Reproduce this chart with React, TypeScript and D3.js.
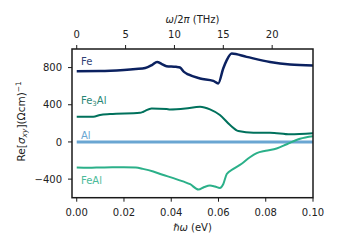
import React from "react";
import * as d3 from "d3";

const feX = [0, 0.01, 0.02, 0.025, 0.029, 0.032, 0.034, 0.036, 0.038, 0.042, 0.0437, 0.0454, 0.0472, 0.0522, 0.0578, 0.0599, 0.062, 0.0635, 0.0656, 0.0719, 0.0818, 0.0903, 0.1];
const feY = [760, 762, 775, 785, 795, 830, 861, 838, 815, 808, 801, 754, 726, 683, 657, 630, 790, 880, 951, 915, 861, 833, 822];

const fe3alX = [0, 0.007, 0.0099, 0.0141, 0.0268, 0.0282, 0.0317, 0.038, 0.0395, 0.046, 0.0522, 0.0564, 0.0606, 0.0649, 0.0684, 0.0748, 0.0818, 0.0903, 0.1];
const fe3alY = [271, 271, 290, 300, 314, 325, 361, 355, 350, 360, 379, 351, 290, 182, 118, 100, 100, 82, 93];

const alX = [0, 0.1];
const alY = [0, 0];

const fealX = [0, 0.005, 0.01, 0.015, 0.02, 0.025, 0.028, 0.0324, 0.036, 0.0409, 0.045, 0.048, 0.0515, 0.054, 0.0564, 0.0585, 0.0606, 0.062, 0.0635, 0.0663, 0.0698, 0.0733, 0.0762, 0.08, 0.0846, 0.0889, 0.0945, 0.1];
const fealY = [-276, -278, -275, -272, -272, -276, -290, -318, -350, -389, -425, -455, -512, -485, -470, -480, -495, -455, -345, -290, -235, -165, -120, -95, -70, -25, 35, 62];

const xTicks = [0, 0.02, 0.04, 0.06, 0.08, 0.1];
const yTicks = [-400, 0, 400, 800];
const thzTicks = [0, 5, 10, 15, 20];

const series = [
  { name: "Fe", xs: feX, ys: feY, color: "#0b2160", width: 2.5 },
  { name: "Fe3Al", xs: fe3alX, ys: fe3alY, color: "#00715c", width: 2 },
  { name: "Al", xs: alX, ys: alY, color: "#6aa6d2", width: 3 },
  { name: "FeAl", xs: fealX, ys: fealY, color: "#2bb089", width: 2 },
];

const EV_PER_THZ = 0.0041357;

export default function App() {
  const left = 72, right = 313, top = 49, bottom = 197.7;
  const x = d3.scaleLinear().domain([-0.002, 0.1]).range([left, right]);
  const y = d3.scaleLinear().domain([-600, 1000]).range([bottom, top]);
  const font = "DejaVu Sans, sans-serif";

  const line = d3
    .line<[number, number]>()
    .x((d) => x(d[0]))
    .y((d) => y(d[1]))
    .curve(d3.curveMonotoneX);

  return (
    <div style={{ position: "fixed", left: 0, top: 0 }}>
      <svg width={340} height={250} style={{ display: "block", background: "#fff" }} fontFamily={font}>
        <defs>
          <clipPath id="plotclip">
            <rect x={left} y={top} width={right - left} height={bottom - top} />
          </clipPath>
        </defs>
        <g clipPath="url(#plotclip)">
          {series.map((s) => (
            <path
              key={s.name}
              d={line(s.xs.map((v, i) => [v, s.ys[i]] as [number, number])) || ""}
              fill="none"
              stroke={s.color}
              strokeWidth={s.width}
              strokeLinejoin="round"
              strokeLinecap="butt"
            />
          ))}
        </g>
        {/* labels */}
        <text x={81} y={65} fontSize={10} fill="#0b2160" opacity={0.85}>Fe</text>
        <text x={81} y={104} fontSize={10} fill="#00715c" opacity={0.85}>
          Fe<tspan fontSize={7} dy={2}>3</tspan><tspan dy={-2}>Al</tspan>
        </text>
        <text x={81} y={138.5} fontSize={10} fill="#6aa6d2">Al</text>
        <text x={81} y={184} fontSize={10} fill="#2bb089" opacity={0.85}>FeAl</text>

        {/* frame */}
        <rect x={left} y={top} width={right - left} height={bottom - top} fill="none" stroke="#1a1a1a" strokeWidth={1.5} />

        {/* bottom axis */}
        {xTicks.map((t) => (
          <g key={"bx" + t}>
            <line x1={x(t)} x2={x(t)} y1={bottom} y2={bottom + 4} stroke="#1a1a1a" strokeWidth={1} />
            <text x={x(t)} y={215.7} fontSize={10} textAnchor="middle" fill="#222">{t.toFixed(2)}</text>
          </g>
        ))}
        <text x={(left + right) / 2} y={231} fontSize={10} textAnchor="middle" fill="#222">
          <tspan fontStyle="italic">ℏω</tspan> (eV)
        </text>

        {/* top axis */}
        {thzTicks.map((t) => (
          <g key={"tx" + t}>
            <line x1={x(t * EV_PER_THZ)} x2={x(t * EV_PER_THZ)} y1={top} y2={top - 4} stroke="#1a1a1a" strokeWidth={1} />
            <text x={x(t * EV_PER_THZ)} y={37.5} fontSize={10} textAnchor="middle" fill="#222">{t}</text>
          </g>
        ))}
        <text x={(left + right) / 2} y={22.5} fontSize={10} textAnchor="middle" fill="#222">
          <tspan fontStyle="italic">ω</tspan>/2<tspan fontStyle="italic">π</tspan> (THz)
        </text>

        {/* left axis */}
        {yTicks.map((t) => (
          <g key={"ly" + t}>
            <line x1={left} x2={left - 4} y1={y(t)} y2={y(t)} stroke="#1a1a1a" strokeWidth={1} />
            <text x={62} y={y(t) + 3.6} fontSize={10} textAnchor="end" fill="#222">
              {t < 0 ? "\u2212" + Math.abs(t) : String(t)}
            </text>
          </g>
        ))}
        <text
          transform={`translate(25, ${(top + bottom) / 2 - 2}) rotate(-90)`}
          fontSize={10.5}
          textAnchor="middle"
          fill="#222"
        >
          Re[<tspan fontStyle="italic">σ</tspan><tspan fontSize={7.5} dy={2} fontStyle="italic">xy</tspan><tspan dy={-2}>](Ωcm)</tspan><tspan fontSize={7.5} dy={-4.5}>−1</tspan>
        </text>
      </svg>
    </div>
  );
}
